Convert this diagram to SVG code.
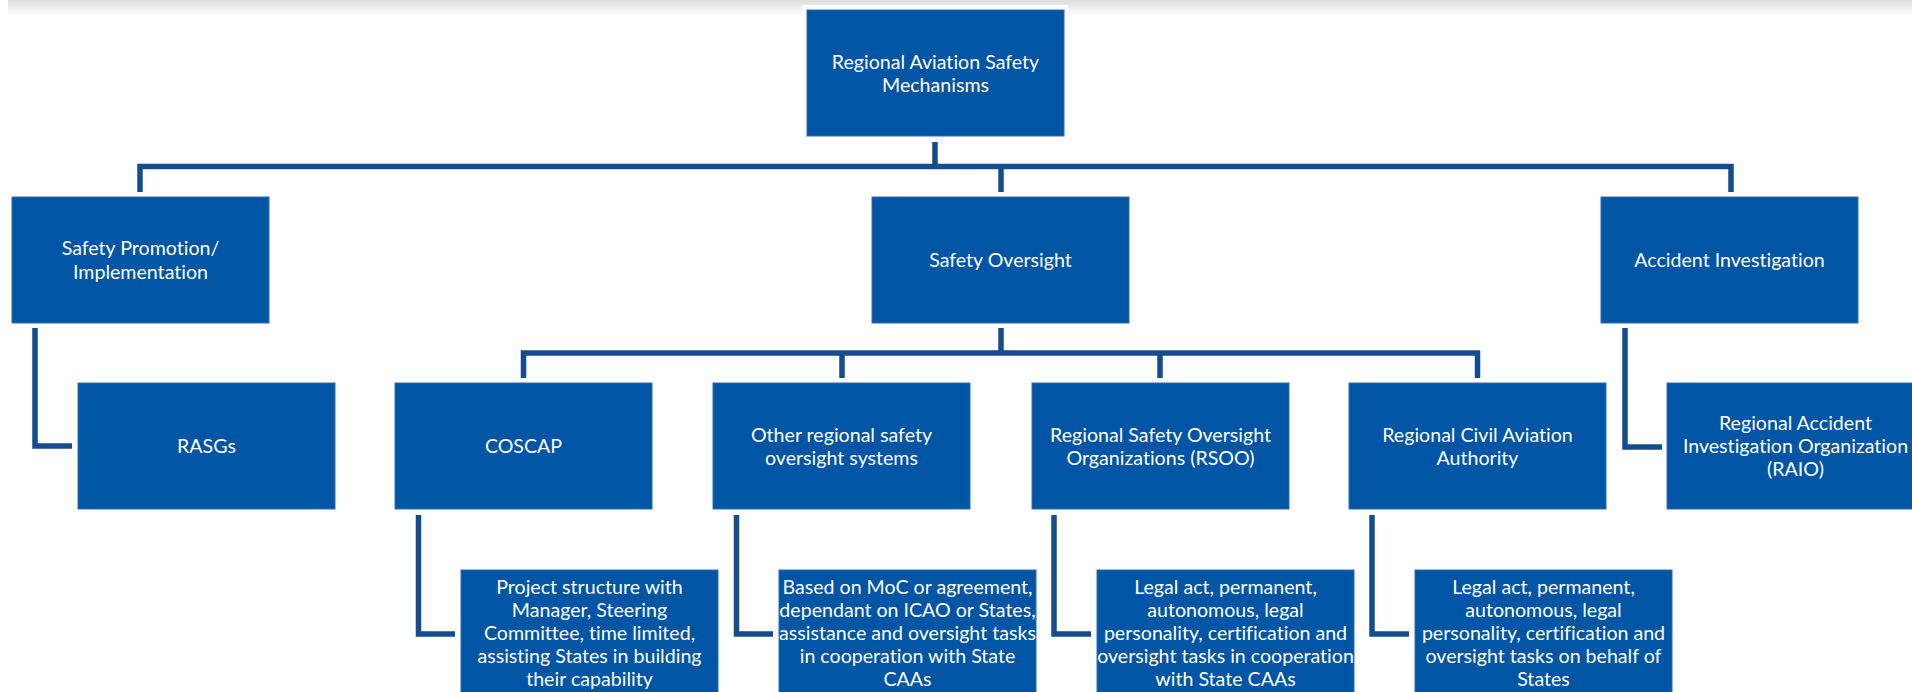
<svg xmlns="http://www.w3.org/2000/svg" width="1912" height="692" viewBox="0 0 1912 692">
<defs>
<linearGradient id="topband" x1="0" y1="0" x2="0" y2="1">
<stop offset="0" stop-color="#dedede"/>
<stop offset="1" stop-color="#ffffff"/>
</linearGradient>
<style>
.box{fill:#0055a4;stroke:#2d6cb4;stroke-width:1}
.t{font-family:Lato,"Liberation Sans",sans-serif;font-size:19.6px;fill:#ffffff;text-anchor:middle;font-variant-ligatures:none}
.c{fill:none;stroke:#154c8e;stroke-width:5.5;stroke-linejoin:miter;stroke-linecap:butt}
</style>
</defs>
<rect x="0" y="0" width="1912" height="692" fill="#ffffff"/>
<rect x="8" y="0" width="1904" height="16" fill="url(#topband)"/>
<rect x="802" y="5" width="266" height="135" fill="#ffffff"/>

<g id="connectors">
<path class="c" d="M935 142 V166.5"/>
<path class="c" d="M140 192 V166.5 H1731 V192"/>
<path class="c" d="M1001 166.5 V192"/>
<path class="c" d="M35 328 V446 H72"/>
<path class="c" d="M1001 328 V353"/>
<path class="c" d="M523.5 378 V353 H1477.5 V378"/>
<path class="c" d="M842 353 V378"/>
<path class="c" d="M1160 353 V378"/>
<path class="c" d="M1625 328 V447 H1662"/>
<path class="c" d="M418.5 515 V634 H455"/>
<path class="c" d="M736.5 515 V634 H773"/>
<path class="c" d="M1054 515 V634 H1091"/>
<path class="c" d="M1372 515 V634 H1409"/>
</g>

<g id="n-root">
<rect class="box" x="807" y="10" width="257" height="126"/>
<text class="t" x="935.5" y="69">Regional Aviation Safety</text>
<text class="t" x="935.5" y="92">Mechanisms</text>
</g>

<g id="n-promotion">
<rect class="box" x="12" y="197" width="257" height="126"/>
<text class="t" x="140.5" y="255">Safety Promotion/</text>
<text class="t" x="140.5" y="279">Implementation</text>
</g>
<g id="n-oversight">
<rect class="box" x="872" y="197" width="257" height="126"/>
<text class="t" x="1000.5" y="267">Safety Oversight</text>
</g>
<g id="n-accident">
<rect class="box" x="1601" y="197" width="257" height="126"/>
<text class="t" x="1729.5" y="267">Accident Investigation</text>
</g>

<g id="n-rasgs">
<rect class="box" x="78" y="383" width="257" height="126"/>
<text class="t" x="206.5" y="453">RASGs</text>
</g>
<g id="n-coscap">
<rect class="box" x="395" y="383" width="257" height="126"/>
<text class="t" x="523.5" y="453">COSCAP</text>
</g>
<g id="n-other">
<rect class="box" x="713" y="383" width="257" height="126"/>
<text class="t" x="841.5" y="442">Other regional safety</text>
<text class="t" x="841.5" y="465">oversight systems</text>
</g>
<g id="n-rsoo">
<rect class="box" x="1032" y="383" width="257" height="126"/>
<text class="t" x="1160.5" y="442">Regional Safety Oversight</text>
<text class="t" x="1160.5" y="465">Organizations (RSOO)</text>
</g>
<g id="n-rcaa">
<rect class="box" x="1349" y="383" width="257" height="126"/>
<text class="t" x="1477.5" y="442">Regional Civil Aviation</text>
<text class="t" x="1477.5" y="465">Authority</text>
</g>
<g id="n-raio">
<rect class="box" x="1667" y="383" width="257" height="126"/>
<text class="t" x="1795.5" y="430">Regional Accident</text>
<text class="t" x="1795.5" y="453">Investigation Organization</text>
<text class="t" x="1795.5" y="476">(RAIO)</text>
</g>

<g id="n-coscap-desc">
<rect class="box" x="461" y="570" width="257" height="130"/>
<text class="t" x="589.5" y="594">Project structure with</text>
<text class="t" x="589.5" y="617">Manager, Steering</text>
<text class="t" x="589.5" y="640">Committee, time limited,</text>
<text class="t" x="589.5" y="663">assisting States in building</text>
<text class="t" x="589.5" y="686">their capability</text>
</g>
<g id="n-other-desc">
<rect class="box" x="779" y="570" width="257" height="130"/>
<text class="t" x="907.5" y="594">Based on MoC or agreement,</text>
<text class="t" x="907.5" y="617">dependant on ICAO or States,</text>
<text class="t" x="907.5" y="640">assistance and oversight tasks</text>
<text class="t" x="907.5" y="663">in cooperation with State</text>
<text class="t" x="907.5" y="686">CAAs</text>
</g>
<g id="n-rsoo-desc">
<rect class="box" x="1097" y="570" width="257" height="130"/>
<text class="t" x="1225.5" y="594">Legal act, permanent,</text>
<text class="t" x="1225.5" y="617">autonomous, legal</text>
<text class="t" x="1225.5" y="640">personality, certification and</text>
<text class="t" x="1225.5" y="663">oversight tasks in cooperation</text>
<text class="t" x="1225.5" y="686">with State CAAs</text>
</g>
<g id="n-rcaa-desc">
<rect class="box" x="1415" y="570" width="257" height="130"/>
<text class="t" x="1543.5" y="594">Legal act, permanent,</text>
<text class="t" x="1543.5" y="617">autonomous, legal</text>
<text class="t" x="1543.5" y="640">personality, certification and</text>
<text class="t" x="1543.5" y="663">oversight tasks on behalf of</text>
<text class="t" x="1543.5" y="686">States</text>
</g>
</svg>
